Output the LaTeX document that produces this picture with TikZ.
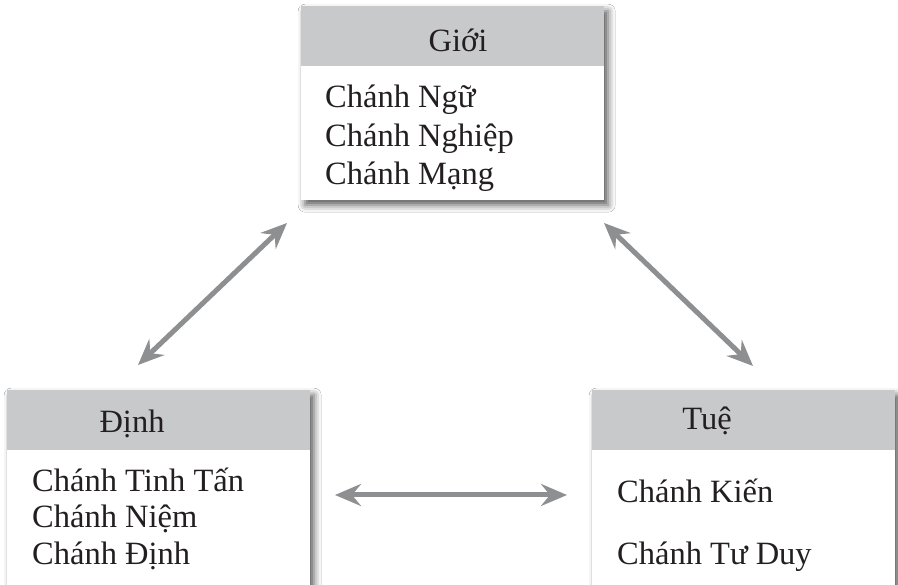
\documentclass[tikz,border=0pt]{standalone}
\usepackage{fontspec}
\setmainfont{Liberation Serif}
\usetikzlibrary{arrows.meta,shadows.blur}
\definecolor{hdr}{HTML}{C8C9CB}
\definecolor{arr}{HTML}{8E8F91}
\definecolor{txt}{HTML}{231F20}
\tikzset{
  boxbody/.style={fill=white, draw=none, inner sep=0pt,
    blur shadow={shadow xshift=4pt, shadow yshift=-5pt, shadow blur radius=7pt, shadow opacity=65}},
  lbl/.style={font=\fontsize{32.5}{38}\selectfont, text=txt, inner sep=0pt},
  dblarrow/.style={arr, line width=5pt, {Stealth[length=26pt,width=22pt,inset=9pt]}-{Stealth[length=26pt,width=22pt,inset=9pt]}}
}
\begin{document}
\begin{tikzpicture}[x=1pt,y=1pt]
\useasboundingbox (0,0) rectangle (898,585);
\clip (0,0) rectangle (898,585);
\fill[white] (0,0) rectangle (898,585);

% top box
\node[boxbody, minimum width=303pt, minimum height=194pt, anchor=north west] (gioi) at (301,579) {};
\fill[hdr] (gioi.north west) rectangle ([yshift=-60pt]gioi.north east);
\node[lbl, anchor=base] (gioih) at (458,533) {Giới};
\node[lbl, anchor=base west] (g1) at (325,477) {Chánh Ngữ};
\node[lbl, anchor=base west] (g2) at (325,438) {Chánh Nghiệp};
\node[lbl, anchor=base west] (g3) at (325,400) {Chánh Mạng};

% left box
\node[boxbody, minimum width=303pt, minimum height=210pt, anchor=north west] (dinh) at (7,195) {};
\fill[hdr] (dinh.north west) rectangle ([yshift=-60pt]dinh.north east);
\node[lbl, anchor=base] (dinhh) at (132,152) {Định};
\node[lbl, anchor=base west] (d1) at (32,93) {Chánh Tinh Tấn};
\node[lbl, anchor=base west] (d2) at (32,57) {Chánh Niệm};
\node[lbl, anchor=base west] (d3) at (32,20) {Chánh Định};

% right box
\node[boxbody, minimum width=303pt, minimum height=210pt, anchor=north west] (tue) at (592,195) {};
\fill[hdr] (tue.north west) rectangle ([yshift=-60pt]tue.north east);
\node[lbl, anchor=base] (tueh) at (707,155) {Tuệ};
\node[lbl, anchor=base west] (t1) at (617,82) {Chánh Kiến};
\node[lbl, anchor=base west] (t2) at (617,20) {Chánh Tư Duy};

% arrows
\coordinate (a1s) at (138,220);
\coordinate (a1e) at (287,362);
\coordinate (a2s) at (604,362);
\coordinate (a2e) at (753,219);
\coordinate (a3s) at (335,90);
\coordinate (a3e) at (567,90);
\draw[dblarrow] (a1s) -- (a1e);
\draw[dblarrow] (a2s) -- (a2e);
\draw[dblarrow] (a3s) -- (a3e);
\end{tikzpicture}
\end{document}
